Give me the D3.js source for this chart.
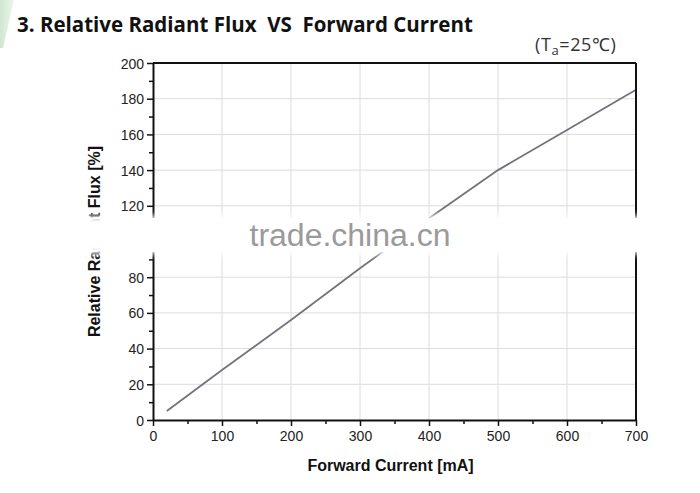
<!DOCTYPE html>
<html>
<head>
<meta charset="utf-8">
<script src="https://cdn.jsdelivr.net/npm/d3@7"></script>
<style>
  body { margin: 0; background: #fff; }
  svg { display: block; }
  .tick text { font-family: "Liberation Sans", Arial, sans-serif; font-size: 14px; fill: #222; }
</style>
</head>
<body>
<div id="chart"></div>
<script>
const WIDTH = 700, HEIGHT = 493;
const M = { top: 63, right: 64, bottom: 73, left: 153 };
const innerW = WIDTH - M.left - M.right;
const innerH = HEIGHT - M.top - M.bottom;

// values
const current = [20, 100, 200, 300, 400, 500, 600, 700];
const flux = [5, 28, 56, 85, 113, 140, 162.5, 185];
const xTicks = [0, 100, 200, 300, 400, 500, 600, 700];
const yTicks = [0, 20, 40, 60, 80, 100, 120, 140, 160, 180, 200];

const svg = d3.select("#chart").append("svg")
  .attr("width", WIDTH).attr("height", HEIGHT);

const defs = svg.append("defs");
const gr = defs.append("linearGradient").attr("id", "greenFade")
  .attr("x1", 0).attr("y1", 0).attr("x2", 1).attr("y2", 0);
gr.append("stop").attr("offset", "0%").attr("stop-color", "#cfe6cf");
gr.append("stop").attr("offset", "100%").attr("stop-color", "#eef6ee");
defs.append("filter").attr("id", "soft")
  .attr("x", "-10%").attr("y", "-50%").attr("width", "120%").attr("height", "200%")
  .append("feGaussianBlur").attr("stdDeviation", 3);

// faint green corner of the source page
svg.append("polygon").attr("points", "0,0 14,0 3,48 0,48").attr("fill", "url(#greenFade)");

const g = svg.append("g").attr("transform", `translate(${M.left},${M.top})`);

const x = d3.scaleLinear().domain([0, 700]).range([0, innerW]);
const y = d3.scaleLinear().domain([0, 200]).range([innerH, 0]);

// grid
g.append("g").selectAll("line").data(xTicks.slice(1, -1)).join("line")
  .attr("x1", d => x(d)).attr("x2", d => x(d))
  .attr("y1", 0).attr("y2", innerH)
  .attr("stroke", "#dcdcdc").attr("stroke-width", 1);
g.append("g").selectAll("line").data(yTicks.slice(1, -1)).join("line")
  .attr("x1", 0).attr("x2", innerW)
  .attr("y1", d => y(d)).attr("y2", d => y(d))
  .attr("stroke", "#dcdcdc").attr("stroke-width", 1);

// curve
g.append("path").datum(current.map((c, i) => [c, flux[i]]))
  .attr("fill", "none").attr("stroke", "#77717c").attr("stroke-width", 1.8)
  .attr("d", d3.line().x(d => x(d[0])).y(d => y(d[1])));

// frame (top & right)
g.append("line").attr("x1", 0).attr("x2", innerW).attr("y1", 0).attr("y2", 0)
  .attr("stroke", "#111").attr("stroke-width", 2);
g.append("line").attr("x1", innerW).attr("x2", innerW).attr("y1", 0).attr("y2", innerH)
  .attr("stroke", "#111").attr("stroke-width", 2);

// minor ticks
g.append("g").attr("transform", `translate(0,${innerH})`)
  .call(d3.axisBottom(x).tickValues(d3.range(50, 700, 100)).tickSize(4).tickFormat(""))
  .call(a => a.select(".domain").remove())
  .selectAll("line").attr("stroke", "#111").attr("stroke-width", 1.5);
g.append("g")
  .call(d3.axisLeft(y).tickValues(d3.range(10, 200, 20)).tickSize(4).tickFormat(""))
  .call(a => a.select(".domain").remove())
  .selectAll("line").attr("stroke", "#111").attr("stroke-width", 1.5);

// major axes
const xAxis = g.append("g").attr("transform", `translate(0,${innerH})`)
  .call(d3.axisBottom(x).tickValues(xTicks).tickSize(6).tickSizeOuter(0).tickPadding(5));
const yAxis = g.append("g")
  .call(d3.axisLeft(y).tickValues(yTicks).tickSize(6).tickSizeOuter(0).tickPadding(3));
[xAxis, yAxis].forEach(a => {
  a.select(".domain").attr("stroke", "#111").attr("stroke-width", 2);
  a.selectAll(".tick line").attr("stroke", "#111").attr("stroke-width", 1.5);
});
yAxis.selectAll(".tick text").attr("dy", "0.36em");

// titles
svg.append("text").attr("x", 17).attr("y", 32)
  .attr("font-family", "'Open Sans', sans-serif").attr("font-weight", "bold")
  .attr("font-size", 20.5).attr("fill", "#111")
  .attr("xml:space", "preserve")
  .text("3. Relative Radiant Flux  VS  Forward Current");

const ta = svg.append("text").attr("x", 535).attr("y", 51)
  .attr("font-family", "'Open Sans', sans-serif").attr("font-size", 18).attr("fill", "#333")
  .attr("letter-spacing", 0.6);
ta.append("tspan").text("(T");
ta.append("tspan").attr("font-size", 13).attr("dy", 4).text("a");
ta.append("tspan").attr("dy", -4).text("=25℃)");

svg.append("text").attr("x", M.left + innerW / 2 - 4).attr("y", 471)
  .attr("text-anchor", "middle")
  .attr("font-family", "'Liberation Sans', Arial, sans-serif").attr("font-weight", "bold")
  .attr("font-size", 16).attr("fill", "#111")
  .text("Forward Current [mA]");

svg.append("text")
  .attr("transform", `translate(100, ${M.top + innerH / 2}) rotate(-90)`)
  .attr("text-anchor", "middle")
  .attr("font-family", "'Liberation Sans', Arial, sans-serif").attr("font-weight", "bold")
  .attr("font-size", 16).attr("fill", "#111")
  .text("Relative Radiant Flux [%]");

// watermark band
svg.append("rect").attr("x", 60).attr("y", 216).attr("width", 640).attr("height", 38)
  .attr("fill", "#fff").attr("filter", "url(#soft)");
svg.append("rect").attr("x", 110).attr("y", 218).attr("width", 580).attr("height", 34)
  .attr("fill", "#fff");
svg.append("text").attr("x", 350).attr("y", 246)
  .attr("text-anchor", "middle")
  .attr("font-family", "'Liberation Sans', Arial, sans-serif")
  .attr("font-size", 31).attr("fill", "#9a9a9a")
  .attr("textLength", 201).attr("lengthAdjust", "spacingAndGlyphs")
  .text("trade.china.cn");
</script>
</body>
</html>
